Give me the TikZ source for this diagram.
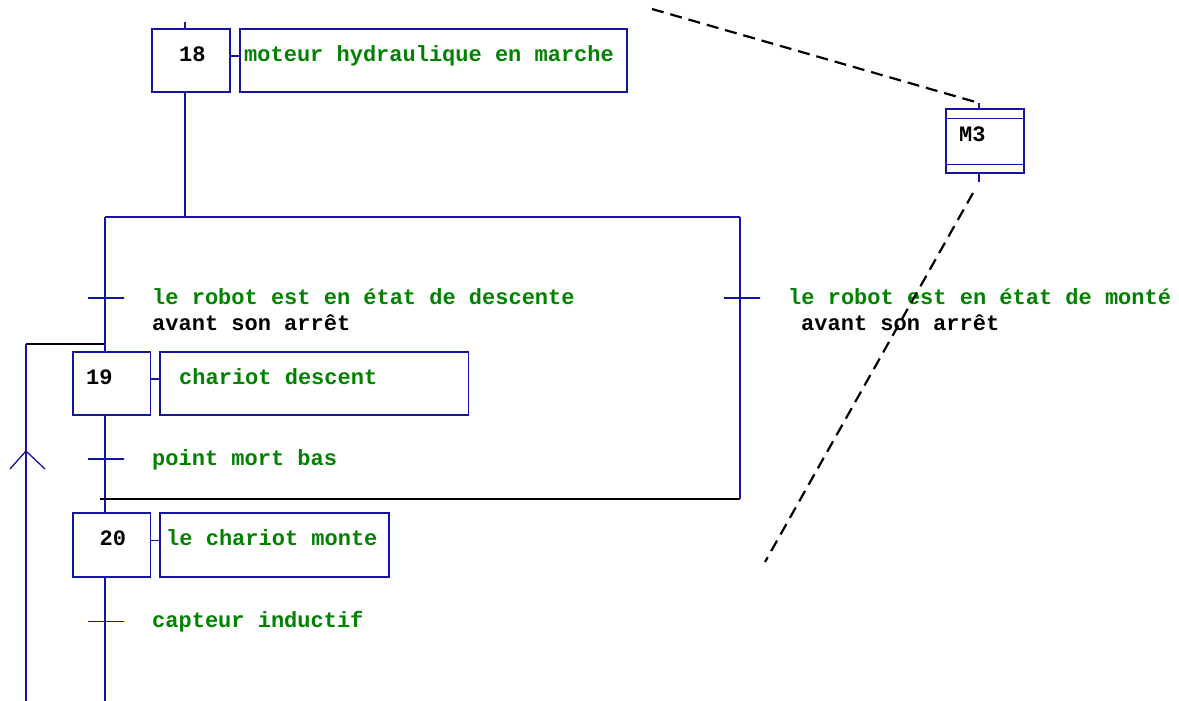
\documentclass[tikz,border=0pt]{standalone}
\usepackage{fontspec}
\newfontfamily\grafont{Liberation Mono}
\definecolor{grablue}{RGB}{20,20,160}
\definecolor{gragreen}{RGB}{0,130,0}
\begin{document}
\begin{tikzpicture}[x=1pt, y=-1pt,
    stepbox/.style={draw=grablue, line width=1.3pt, minimum width=78pt, minimum height=63pt, inner sep=0pt},
    actbox/.style={draw=grablue, line width=1.3pt, minimum height=63pt, inner sep=0pt},
    trans/.style={draw=grablue, line width=1.3pt, minimum width=36pt, minimum height=0pt, inner sep=0pt, outer sep=0pt},
    link/.style={grablue, line width=1.3pt},
    txt/.style={anchor=base west, inner sep=0pt, font=\grafont\bfseries\fontsize{22}{26}\selectfont},
    act/.style={txt, text=gragreen},
    hint/.style={black, line width=2.2pt, dash pattern=on 12pt off 7pt},
  ]
    \useasboundingbox (0,0) rectangle (1179,701);

    % steps and actions
    \node[stepbox] (s18) at (191, 60.5) {};
    \node[actbox, minimum width=387pt] (a18) at (433.5, 60.5) {};
    \node[stepbox, minimum width=77.5pt] (s19) at (111.75, 383.5) {};
    \node[actbox, minimum width=308.5pt] (a19) at (314.25, 383.5) {};
    \node[stepbox, minimum width=77.5pt, minimum height=64pt] (s20) at (111.75, 545) {};
    \node[actbox, minimum width=229pt, minimum height=64pt] (a20) at (274.5, 545) {};
    \node[stepbox, minimum height=64pt] (m3) at (985, 141) {};

    \node[txt] (n18) at (179, 61.5) {18};
    \node[act] (l18) at (244, 62) {moteur hydraulique en marche};
    \node[txt] (n19) at (86, 384.5) {19};
    \node[act] (l19) at (179, 384.5) {chariot descent};
    \node[txt] (n20) at (99.5, 545) {20};
    \node[act] (l20) at (166, 545) {le chariot monte};
    \node[txt] (nm3) at (959, 141.5) {M3};

    % transitions
    \node[trans] (t1) at (106, 298) {};
    \node[trans] (t2) at (742, 298) {};
    \node[trans] (t3) at (106, 459) {};
    \node[trans] (t4) at (106, 621.5) {};

    \node[act] (r1) at (152, 304) {le robot est en état de descente};
    \node[txt] (r1b) at (152, 330) {avant son arrêt};
    \node[act] (r2) at (788, 304) {le robot est en état de monté};
    \node[txt] (r2b) at (801, 330) {avant son arrêt};
    \node[act] (r3) at (152, 465) {point mort bas};
    \node[act] (r4) at (152, 627) {capteur inductif};

    \coordinate (in18) at (185, 22);
    \coordinate (divL) at (105, 217);
    \coordinate (divR) at (740, 217);
    \coordinate (joinL) at (100, 499);
    \coordinate (joinR) at (740, 499);
    \coordinate (bot) at (105, 701);
    \coordinate (retTop) at (26, 344);
    \coordinate (retBot) at (26, 701);
    \coordinate (retEnd) at (104, 344);
    \coordinate (arr) at (26, 451);
    \coordinate (m3in) at (979, 103);
    \coordinate (m3out) at (979, 182);

    % links
    \draw[link] (in18) -- (in18 |- s18.north);
    \draw[link] (in18 |- s18.south) -- (in18 |- divL);
    \draw[link] (divL) -- (divR);
    \draw[link] (divL) -- (divL |- s19.north);
    \draw[link] (divR) -- (joinR);
    \draw[link] (divL |- s19.south) -- (divL |- s20.north);
    \draw[link] (divL |- s20.south) -- (bot);
    \draw[link] ([yshift=4.5pt]s18.east) -- ([yshift=4.5pt]a18.west);
    \draw[link] ([yshift=4.5pt]s19.east) -- ([yshift=4.5pt]a19.west);
    \draw[link] ([yshift=4.5pt]s20.east) -- ([yshift=4.5pt]a20.west);
    \draw[black, line width=2pt] (joinL) -- (joinR);

    % return line
    \draw[link] (retTop) -- (retBot);
    \draw[black, line width=2pt] (retTop) -- (retEnd);
    \draw[link] (arr) ++(-16,18) -- (arr) -- ++(19,18);

    % macro step M3
    \draw[link] ([yshift=-10pt]m3.north west) -- ([yshift=-10pt]m3.north east);
    \draw[link] ([yshift=9pt]m3.south west) -- ([yshift=9pt]m3.south east);
    \draw[link] (m3in) -- (m3in |- m3.north);
    \draw[link] (m3in |- m3.south) -- (m3out);
    \draw[hint] (652, 9) -- (m3in);
    \draw[hint] (973, 193) -- (765, 562);
  \end{tikzpicture}
\end{document}
